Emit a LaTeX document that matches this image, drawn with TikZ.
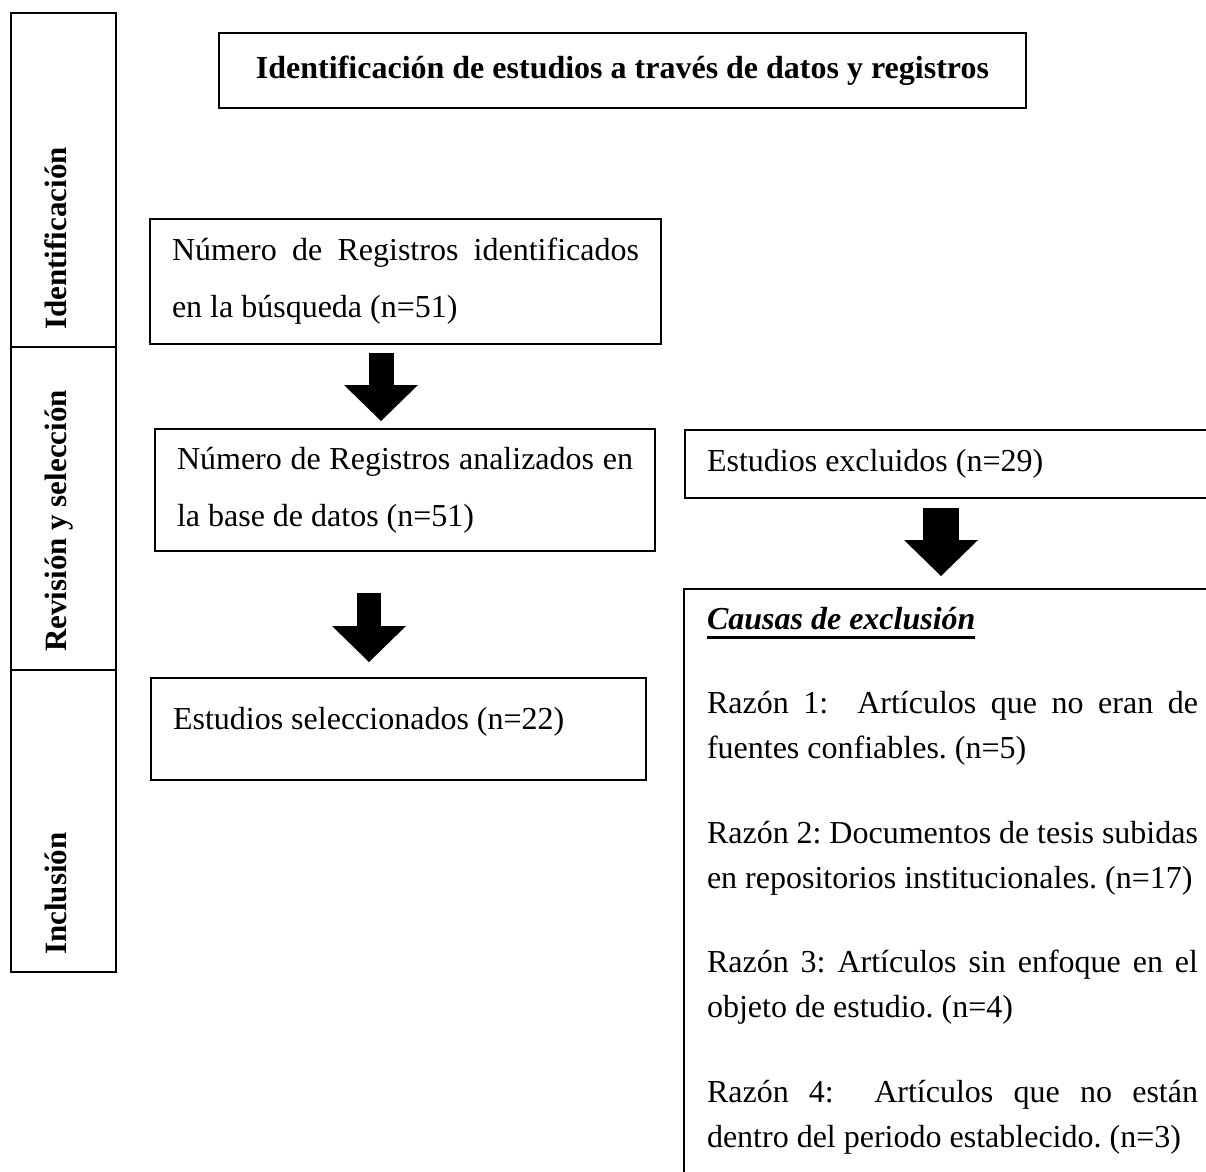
\documentclass[tikz,border=0pt]{standalone}
\usepackage{fontspec}
\setmainfont{Liberation Serif}
\usetikzlibrary{arrows.meta}
\newsavebox{\ulbox}
\newcommand{\ulhead}[1]{\sbox\ulbox{#1}\rlap{\rule[-9.5pt]{\wd\ulbox}{3pt}}\usebox\ulbox}
\begin{document}
\frenchspacing\hbadness=10000
\begin{tikzpicture}[x=1pt,y=-1pt,
  caja/.style={draw,line width=2.6pt,outer sep=0pt,inner xsep=22pt,anchor=north west,align=justify,font=\fontsize{32}{57}\selectfont},
  fase/.style={rotate=90,anchor=base west,inner sep=0pt,font=\fontsize{31}{36}\selectfont\bfseries},
  blockarrow/.style={line width=#1,-{Triangle[width=74pt,length=36pt,line width=0pt]}}]
\useasboundingbox (0,0) rectangle (1206,1171);
\clip (0,0) rectangle (1206,1171);
\draw[line width=2.6pt](11,13) rectangle (116,972) (11,347)--(116,347) (11,670)--(116,670);
\node[fase] (fid) at (66,330) {Identificación};
\node[fase] (frs) at (66,652) {Revisión y selección};
\node[fase] (fin) at (66,955) {Inclusión};
\node[caja,align=center,minimum width=807pt,minimum height=75pt,font=\fontsize{32}{40}\selectfont\bfseries] (titulo) at (219,33) {Identificación de estudios a través de datos y registros};
\node[caja,text width=467pt,minimum height=125pt] (regid) at (150,219) {Número de Registros identificados\linebreak en la búsqueda (n=51)};
\node[caja,text width=456pt,minimum height=122pt] (regan) at (155,429) {Número de Registros analizados en\linebreak la base de datos (n=51)};
\node[caja,text width=451pt,minimum height=102pt] (selec) at (151,678) {Estudios seleccionados (n=22)\rule[-22pt]{0pt}{0pt}};
\node[caja,text width=491pt,minimum height=68pt] (exclu) at (685,430) {Estudios excluidos (n=29)};
\node[caja,text width=491pt,inner xsep=23pt,inner ysep=18pt,font=\fontsize{32}{45}\selectfont,
  execute at begin node={\setlength{\parskip}{39.5pt}\setlength{\parindent}{0pt}}] (causas) at (684,589)
  {\ulhead{\textbf{\textit{Causas de exclusión}}}\par
   Razón 1:\ \ Artículos que no eran de\linebreak fuentes confiables. (n=5)\par
   Razón 2: Documentos de tesis subidas\linebreak en repositorios institucionales. (n=17)\par
   Razón 3: Artículos sin enfoque en el\linebreak objeto de estudio. (n=4)\par
   Razón 4:\ \ Artículos que no están\linebreak dentro del periodo establecido. (n=3)\rule[-70pt]{0pt}{0pt}};
\coordinate (a1) at (381,0);
\coordinate (a2) at (369,0);
\coordinate (a3) at (941,0);
\draw[blockarrow=25pt,shorten <=9pt,shorten >=8pt](regid.south -| a1)--(regan.north -| a1);
\draw[blockarrow=24pt,shorten <=42pt,shorten >=16pt](regan.south -| a2)--(selec.north -| a2);
\draw[blockarrow=36pt,shorten <=10pt,shorten >=13pt](exclu.south -| a3)--(causas.north -| a3);
\end{tikzpicture}
\end{document}
